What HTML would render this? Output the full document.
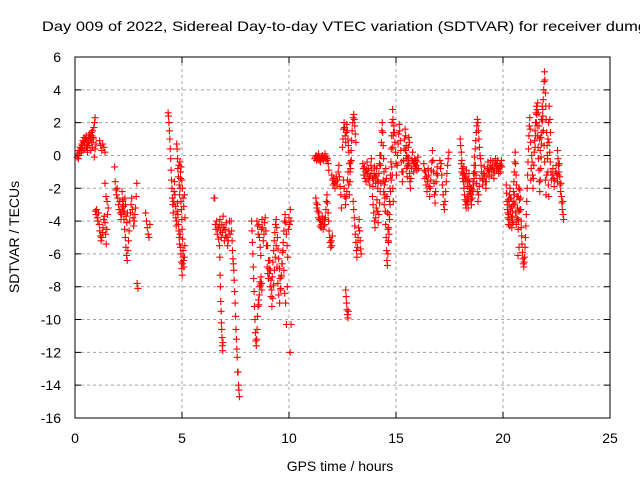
<!DOCTYPE html>
<html><head><meta charset="utf-8"><style>
body{margin:0;background:#fff}
svg{display:block;font-family:"Liberation Sans",sans-serif}
</style></head><body>
<svg id="chart" width="640" height="480" viewBox="0 0 640 480" xmlns="http://www.w3.org/2000/svg">
<rect x="0" y="0" width="640" height="480" fill="#fff"/>
<text x="42" y="31" font-size="14" fill="#000" textLength="605" lengthAdjust="spacingAndGlyphs">Day 009 of 2022, Sidereal Day-to-day VTEC variation (SDTVAR) for receiver dumg</text>
<g id="grid"></g>
<g id="axes"></g>
<g id="points"></g>
<rect x="75" y="57" width="535" height="361" fill="none" stroke="#000" stroke-width="1"/>
<text x="340" y="471" font-size="14" text-anchor="middle">GPS time / hours</text>
<text x="0" y="0" font-size="14" text-anchor="middle" transform="translate(19,237) rotate(-90)">SDTVAR / TECUs</text>
</svg>
<script>
const xTicks = [0, 5, 10, 15, 20, 25];
const yTicks = [6, 4, 2, 0, -2, -4, -6, -8, -10, -12, -14, -16];
const segStart = [0.1,0.3,1.15,0.95,1.4,1.85,2.2,2.9,3.3,4.35,4.75,4.9,6.5,6.75,7.3,8.25,8.5,9.0,10.05,11.2,11.25,12.0,12.5,12.55,12.65,13.0,13.45,13.9,14.3,14.4,14.85,15.45,16.3,17.05,18.0,18.05,18.95,20.15,20.2,20.85,20.7,21.3,21.5,22.15,22.55];
const segStep = [0.03,0.04,0.05,0.03,0.05,0.03,0.03,0.04,0.04,0.02,0.02,0.03,0.03,0.015,0.02,0.02,0.03,0.04,0.05,0.03,0.025,0.03,0.025,0.03,0.02,0.025,0.025,0.03,0.02,0.025,0.025,0.025,0.025,0.03,0.025,0.03,0.025,0.02,0.03,0.02,0.05,0.02,0.03,0.03,0.02];
const segValues = [
[-0.1,0.1,-0.2,0.3,0.2,0.5,0.4,0.7,0.6,0.9,0.8,1.1,0.7,1.0,1.2,0.9,0.6,0.8,1.1,1.3,0.9,1.0,1.4,1.2,1.5,1.1,1.7,2.0,2.3],
[0.2,0.5,0.3,0.8,0.4,1.0,0.5,0.2,0.9,0.6,1.2,0.3,0.8,0.5,1.0,-0.1,0.4,0.7],
[0.9,0.6,0.3,0.7,0.5,0.2],
[-3.4,-3.6,-3.3,-3.8,-4.0,-3.5,-4.2,-4.6,-4.9,-5.2,-5.0,-4.7,-4.4,-3.9,-3.7,-4.1,-4.8,-5.4,-4.5,-3.6],
[-1.7,-2.5,-2.8,-3.2],
[-0.7,-1.6,-2.1,-2.4,-2.0,-2.6,-3.0,-3.3,-2.8,-3.5,-3.9,-3.6,-3.2,-2.7,-3.1,-3.4,-2.6,-3.0,-3.7,-4.1,-3.5],
[-2.2,-2.8,-3.4,-3.9,-4.5,-5.0,-5.6,-6.1,-6.4,-5.8,-5.2,-4.6,-4.0,-3.5,-3.0,-2.6,-3.3,-3.8,-4.3,-4.0,-3.6,-3.2,-2.5,-1.7],
[-7.8,-8.1],
[-3.5,-4.0,-4.4,-4.8,-5.0,-4.2],
[2.6,2.4,2.0,1.5,1.0,0.4,-0.2,-0.9,-1.5,-2.0,-2.6,-3.0,-3.5,-2.8,-2.2,-1.6,-2.4,-3.1,-3.8,-4.3,-4.0,-3.4,-2.9,-3.6,-4.2,-4.6,-5.0,-5.4,-4.8,-5.6,-6.0,-6.5,-6.9,-7.3,-6.6,-6.2],
[0.7,0.4,-0.2,-0.8,-1.3,-0.6,-1.8,-2.4,-2.0,-1.4,-2.8,-3.3,-3.9,-4.5,-5.1,-5.8,-6.4,-6.8,-6.2,-5.5],
[-0.4,-1.0,-0.7,-1.5,-2.0,-2.6,-3.1,-2.4,-3.8],
[-2.6,-2.6,-4.2,-4.5,-4.0,-4.8,-4.4,-5.1,-4.3,-3.9,-4.6,-5.0,-4.2,-4.7,-3.7,-4.4,-5.2,-4.5,-4.9,-4.1,-5.0,-5.5,-5.2,-4.6,-4.0,-4.8],
[-5.5,-6.2,-7.3,-8.0,-8.9,-9.5,-10.2,-10.6,-11.1,-11.6,-11.9,-11.4],
[-4.0,-4.6,-5.2,-5.8,-6.3,-6.6,-7.0,-7.6,-8.3,-9.0,-9.8,-10.6,-11.2,-11.8,-12.3,-13.2,-13.2,-14.0,-14.3,-14.7],
[-4.0,-4.6,-5.3,-6.0,-6.8,-7.5,-8.3,-9.2,-10.0,-10.8,-11.3,-11.6,-11.2,-10.6,-9.8,-9.2,-8.8,-9.1,-8.5,-8.0,-7.7,-7.9,-7.4,-7.8,-8.2],
[-4.0,-4.3,-4.8,-4.2,-5.0,-5.6,-6.1,-4.5,-3.9,-4.4,-5.2,-4.8,-4.1,-3.8,-4.6,-5.5,-6.8,-7.2,-7.5,-6.9,-6.4,-7.0,-7.6,-8.2,-7.4,-6.5,-5.8,-5.2,-4.7,-4.2,-3.9,-4.4,-5.0,-5.7,-6.3,-6.9,-7.5,-8.1,-7.3,-6.6,-5.9,-5.3,-4.6,-4.0,-3.6,-4.1,-4.8,-5.5,-6.2,-4.5,-3.8,-4.2,-3.3,-4.0],
[-5.5,-6.4,-7.2,-8.0,-8.6,-9.2,-8.7,-7.9,-7.0,-6.2,-5.5,-6.8,-7.8,-8.5,-9.0,-8.2,-7.4,-6.6,-5.8,-7.0,-8.4,-9.0,-10.3,-8.0],
[-12.0,-10.3],
[-0.2,-0.1,0.0,-0.3,-0.1,-0.2,0.1,-0.3,-0.1,-0.4,-0.2,-0.1,0.0,-0.2,-0.3,-0.1,0.1,-0.2,-0.1,-0.3,-0.2,-0.5,-0.9],
[-2.6,-2.9,-3.2,-3.0,-3.4,-3.8,-3.5,-3.9,-4.3,-4.0,-4.4,-4.2,-3.7,-4.0,-4.5,-4.3,-3.9,-4.2,-3.8,-3.3,-2.8,-2.4,-2.9,-3.5,-4.0,-4.6,-5.0,-5.3,-5.6,-5.2,-5.5,-4.9],
[-1.2,-1.5,-1.8,-1.4,-1.7,-2.0,-1.6,-1.3,-1.8,-1.5,-1.0,-0.6,-1.3,-1.9,-2.4,-3.2],
[0.5,1.0,1.6,2.0,1.7,1.2,0.8,1.4,1.9,1.5,1.0,0.6,0.2,-0.5,-1.0,-0.4,0.3,0.9,1.5,2.0,2.3,2.5,2.2,1.8,1.3,0.8],
[-1.5,-2.0,-2.5,-3.0,-2.6,-2.2,-1.5,-1.0,-1.8,-2.4,-1.6,-0.8,-0.3],
[-8.2,-8.6,-9.0,-9.4,-9.7,-9.9,-9.5],
[-2.8,-3.3,-3.8,-4.3,-4.8,-5.3,-5.8,-6.2,-5.6,-5.0,-4.4,-3.9,-4.6,-5.2,-5.7,-6.0],
[-0.5,-0.8,-1.2,-0.7,-1.4,-1.0,-1.6,-0.9,-0.4,-1.1,-1.5,-0.8,-1.3,-1.8,-1.2,-0.6,-0.2,-0.9,-1.4,-1.9,-1.5,-1.1,-0.7,-1.3,-1.7,-1.2,-0.8,-1.5,-2.0,-1.6,-1.1,-0.5,0.0,-0.6],
[-2.5,-3.0,-3.5,-4.0,-4.4,-3.8,-3.2,-2.7,-3.4,-4.1,-3.6,-2.9,-2.2,-1.7],
[0.0,0.8,1.5,2.0,1.4,0.6,-0.2,-1.0,-1.8,-2.6,-3.4,-4.2,-5.0,-5.8,-6.4,-6.7,-6.0,-5.2,-4.4,-3.6,-2.8,-2.0,-1.2,-0.4,0.4,1.2,2.0,2.8,2.2,1.4],
[-1.5,-2.2,-3.0,-2.4,-1.6,-0.8,-1.4,-2.5,-3.5,-4.5,-5.3,-4.8,-3.9,-3.0,-2.2,-1.5,-0.7,-1.2,-2.0,-2.8],
[0.5,1.2,1.8,1.4,0.8,0.2,-0.5,-1.2,-0.6,0.0,0.7,1.3,1.9,1.5,0.9,0.3,-0.4,-1.0,-1.6,-1.0,-0.3,0.4,1.0,1.6,1.2,0.6,0.0,-0.7,-0.2,0.5,1.1,0.8],
[0.3,-0.2,-0.8,-1.3,-0.6,-0.1,-0.5,-1.1,-1.6,-2.0,-1.4,-0.8,-0.3,0.2,-0.4,-1.0,-0.5,-0.2,-0.7,-0.3,-0.6,-0.9,-0.4,-0.1,-0.8],
[-0.5,-0.9,-1.4,-1.0,-1.8,-1.3,-2.2,-1.6,-0.8,-1.2,-1.9,-2.5,-2.0,-1.5,-0.9,-0.4,0.3,-0.3,-1.0,-1.7,-2.4,-2.9,-2.2,-1.6,-1.1,-0.7,-1.2],
[-0.3,-0.8,-0.5,-1.2,-1.8,-2.4,-3.0,-3.3,-2.8,-2.2,-1.6,-1.1,-0.6,-0.2,0.2],
[1.0,0.6,0.2,-0.3,-0.8,-1.2,-1.6,-2.0,-2.4,-2.7,-3.0,-3.2,-2.8,-2.5,-2.9,-3.2,-2.6,-2.2,-1.8,-2.3,-2.7,-3.0,-2.6,-2.1,-1.6,-1.1,-0.6,-0.1,0.4,0.9,1.4,1.8,2.2,2.0,1.5,1.0,0.5,0.0],
[-0.5,-1.0,-1.4,-1.1,-0.7,-1.2,-1.6,-1.3,-0.9,-1.5,-1.9,-1.5,-1.1,-1.6,-2.0,-2.4,-2.0,-2.6,-2.2,-1.8,-1.4,-1.0,-0.6,-1.2,-1.7,-2.2,-2.8,-2.4,-1.9,-1.4],
[-0.2,-0.6,-1.0,-1.4,-1.8,-1.5,-1.1,-0.7,-1.2,-1.6,-2.0,-1.6,-1.2,-0.8,-0.4,-0.9,-1.3,-1.0,-0.6,-0.3,-0.8,-1.2,-0.7,-0.4,-0.9,-1.4,-1.0,-0.6,-0.2,-0.5,-0.9,-0.6,-0.3,-0.8,-1.1,-0.7,-0.5,-1.0,-0.6,-0.3,-0.7],
[-1.8,-2.3,-2.8,-3.3,-3.8,-4.2,-3.6,-3.0,-2.4,-2.0,-2.6,-3.2,-3.8,-4.4,-4.0,-3.4,-2.8,-2.2,-1.6,-1.0,-0.4,0.2,-0.5,-1.2,-1.8,-2.5,-3.2,-3.9,-4.5,-4.0,-3.4,-2.7,-2.1,-2.6,-3.3,-4.0],
[-3.0,-3.5,-2.7,-3.9,-4.3,-3.4,-2.6,-3.1,-3.7,-4.1,-3.0,-2.4,-2.9,-3.5,-4.2,-3.8,-3.2,-2.5,-2.0,-2.7,-3.3],
[-4.4,-4.9,-5.4,-5.9,-6.3,-6.6,-6.8,-6.5,-6.2,-5.6,-5.0,-4.3,-3.6,-2.8,-2.0,-1.2,-0.4,0.4,1.2,1.8,2.3,1.6,0.8],
[-6.1,-5.6],
[-1.5,-0.8,0.0,-0.4,-1.2,-2.0,-1.4,-0.6,0.2,0.9,1.5,2.0,2.6,3.0,2.5,1.8,1.2,0.5,-0.2,-0.9,-1.6,-2.2,-1.5,-0.8,-0.1,0.7,1.4,2.1,2.8,3.4,4.0,4.5,5.1,4.6,3.8,3.0,2.2,1.4,0.6,-0.2,-1.0,-1.8,-2.5],
[0.5,1.2,2.0,2.8,3.2,2.6,1.8,1.0,0.3,1.1,2.2,3.0,2.4,1.5,0.6,-0.4,-1.5,-2.4,-1.2,0.0,1.0,2.0,3.0,2.2,1.4],
[0.8,0.2,-0.4,-1.0,-1.5,-1.2,-0.8,-1.4,-1.9,-1.5,-1.0,-0.6,-1.1,-1.6,-1.2],
[0.3,-0.2,-0.6,-1.0,-0.5,-1.3,-1.8,-2.2,-1.7,-2.5,-2.9,-3.3,-2.8,-3.6,-3.9]
];

const NS = "http://www.w3.org/2000/svg";
const X0 = 75, X1 = 610, Y0 = 57, Y1 = 418;
const xMin = 0, xMax = 25, yMin = -16, yMax = 6;
function xScale(t){ return X0 + (t - xMin) / (xMax - xMin) * (X1 - X0); }
function yScale(v){ return Y1 - (v - yMin) / (yMax - yMin) * (Y1 - Y0); }
function mk(tag, attrs){ const e = document.createElementNS(NS, tag); for (const k in attrs) e.setAttribute(k, attrs[k]); return e; }

const grid = document.getElementById('grid');
const axes = document.getElementById('axes');
xTicks.forEach(t => {
  const x = xScale(t);
  if (t > xMin && t < xMax) {
    const g = mk('line', {x1:x, y1:Y0, x2:x, y2:Y1, stroke:'#a0a0a0', 'stroke-width':1, 'stroke-dasharray':'3,3'});
    
    
    grid.appendChild(g);
  }
  const tk = mk('path', {d:`M${x},${Y1}v-6M${x},${Y0}v6`, stroke:'#000', 'stroke-width':1});
  
  
  axes.appendChild(tk);
  const lb = mk('text', {x:x, y:443, 'font-size':14, 'text-anchor':'middle'});
  lb.textContent = t;
  
  
  axes.appendChild(lb);
});
yTicks.forEach(v => {
  const y = yScale(v);
  if (v > yMin && v < yMax) {
    const g = mk('line', {x1:X0, y1:y, x2:X1, y2:y, stroke:'#a0a0a0', 'stroke-width':1, 'stroke-dasharray':'3,3'});
    
    
    grid.appendChild(g);
  }
  const tk = mk('path', {d:`M${X0},${y}h6M${X1},${y}h-6`, stroke:'#000', 'stroke-width':1});
  
  
  axes.appendChild(tk);
  const lb = mk('text', {x:61, y:y + 5, 'font-size':14, 'text-anchor':'end'});
  lb.textContent = v;
  
  
  axes.appendChild(lb);
});

const pts = document.getElementById('points');
let d = '';
segValues.forEach((vals, i) => {
  vals.forEach((v, j) => {
    const t = segStart[i] + j * segStep[i];
    const x = xScale(t).toFixed(1), y = yScale(v).toFixed(1);
    d += `M${x - 3.5},${y}h7M${x},${y - 3.5}v7`;
  });
});
const path = mk('path', {d:d, stroke:'#ff0000', 'stroke-width':1.1, fill:'none'});


pts.appendChild(path);
</script>
</body></html>
